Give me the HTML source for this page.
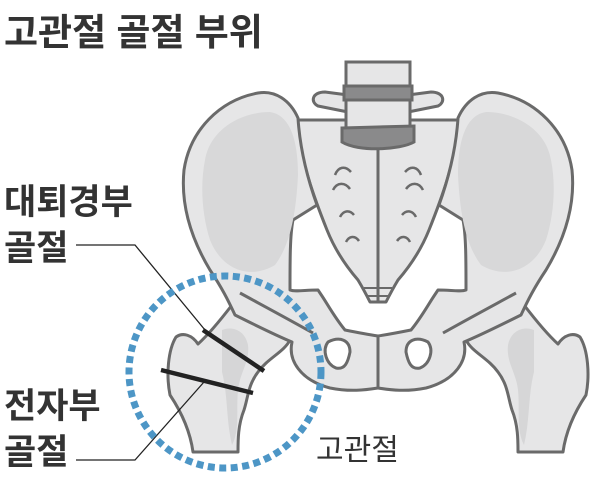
<!DOCTYPE html>
<html><head><meta charset="utf-8"><style>
html,body{margin:0;padding:0;background:#fff;}
svg{display:block}
text{font-family:"Liberation Sans","Noto Sans CJK KR","NanumGothic",sans-serif;}
</style></head><body>
<svg width="600" height="477" viewBox="0 0 600 477" xmlns="http://www.w3.org/2000/svg">
<defs>
<g id="half" stroke="#6a6a6a" stroke-width="3" stroke-linejoin="round" fill="#e6e6e7">
  <!-- femur -->
  <path d="M193,452 C190,430 180,410 170,395 C166,375 168,350 176,337 C183,332 192,335 198,344 C208,335 222,318 232,305 C250,300 275,315 290,340 C284,352 268,358 258,372 C248,385 248,398 244,410 C238,425 238,440 238,452 Z"/>
  <path d="M222,330 C232,326 245,330 248,345 C250,362 240,372 238,390 C236,410 240,430 232,445 C226,420 228,395 222,372 Z" fill="#d6d6d7" stroke="none"/>
  <!-- transverse process -->
  <path d="M348,95 L325,92 C312,92 310,102 318,106 L348,112 Z"/>
  <!-- sacrum half -->
  <path d="M378,120 L296,120 C300,160 315,200 327,230 C335,250 345,265 358,280 C364,290 367,296 370,302 L378,302 Z"/>
  <path d="M335,175 c3,-8 10,-10 16,-3 M333,190 c4,-8 12,-8 17,-1 M340,217 c3,-6 9,-8 14,-2 M346,242 c3,-6 9,-7 13,-1" fill="none" stroke-width="2.5"/>
  <path d="M364,288 L378,288 M366,296 L378,296" fill="none" stroke-width="2"/>
  <!-- hip bone -->
  <path d="M298,118 C290,100 275,90 258,93 C220,100 190,130 184,170 C180,210 195,245 210,270 C222,288 228,300 235,315 C255,325 275,335 292,342 C288,360 300,380 330,388 C350,392 365,390 378,388 L378,336 C365,334 355,332 345,330 C335,318 328,305 322,296 L318,290 C305,290 295,292 290,290 C290,260 290,235 293,220 L317,205 C308,180 300,150 298,118 Z"/>
  <path d="M205,160 C210,130 240,112 270,112 C290,115 298,140 298,175 C296,215 290,245 275,265 C250,280 222,270 210,240 C202,215 200,185 205,160 Z" fill="#d8d8d9" stroke="none"/>
  <path d="M240,293 C262,305 290,320 313,333" fill="none"/>
  <!-- obturator hole -->
  <path d="M328,342 C340,336 350,340 350,352 C348,362 345,370 336,368 C326,364 322,350 328,342 Z" fill="#fff"/>
</g>
</defs>
<rect x="346" y="62" width="64" height="30" fill="#e6e6e7" stroke="#6a6a6a" stroke-width="3"/>
<use href="#half"/>
<use href="#half" transform="translate(756,0) scale(-1,1)"/>
<path d="M378,150 L378,302 M378,336 L378,388" stroke="#6a6a6a" stroke-width="2" fill="none"/>
<rect x="344" y="86" width="68" height="14" fill="#8a8a8b" stroke="#6a6a6a" stroke-width="3"/>
<rect x="346" y="100" width="64" height="28" fill="#e6e6e7" stroke="#6a6a6a" stroke-width="3"/>
<path d="M342,128 L414,126 L414,142 C400,150 358,152 342,142 Z" fill="#8a8a8b" stroke="#6a6a6a" stroke-width="3"/>
<line x1="203" y1="330" x2="264" y2="371" stroke="#222" stroke-width="4.5"/>
<line x1="161" y1="370" x2="253" y2="393" stroke="#222" stroke-width="4.5"/>
<polyline points="76,245 135,245 205,330" fill="none" stroke="#222" stroke-width="1.3"/>
<polyline points="76,460 135,460 204,382" fill="none" stroke="#222" stroke-width="1.3"/>
<circle cx="225" cy="372" r="96" fill="none" stroke="#4d96c6" stroke-width="7" stroke-dasharray="7 4.5"/>
<text x="4" y="45" font-size="37" font-weight="bold" fill="#333">고관절 골절 부위</text>
<text x="4" y="214" font-size="35" font-weight="bold" fill="#333">대퇴경부</text>
<text x="4" y="260" font-size="35" font-weight="bold" fill="#333">골절</text>
<text x="4" y="418" font-size="35" font-weight="bold" fill="#333">전자부</text>
<text x="4" y="464" font-size="35" font-weight="bold" fill="#333">골절</text>
<text x="316" y="460" font-size="30" fill="#333">고관절</text>
</svg>
</body></html>
